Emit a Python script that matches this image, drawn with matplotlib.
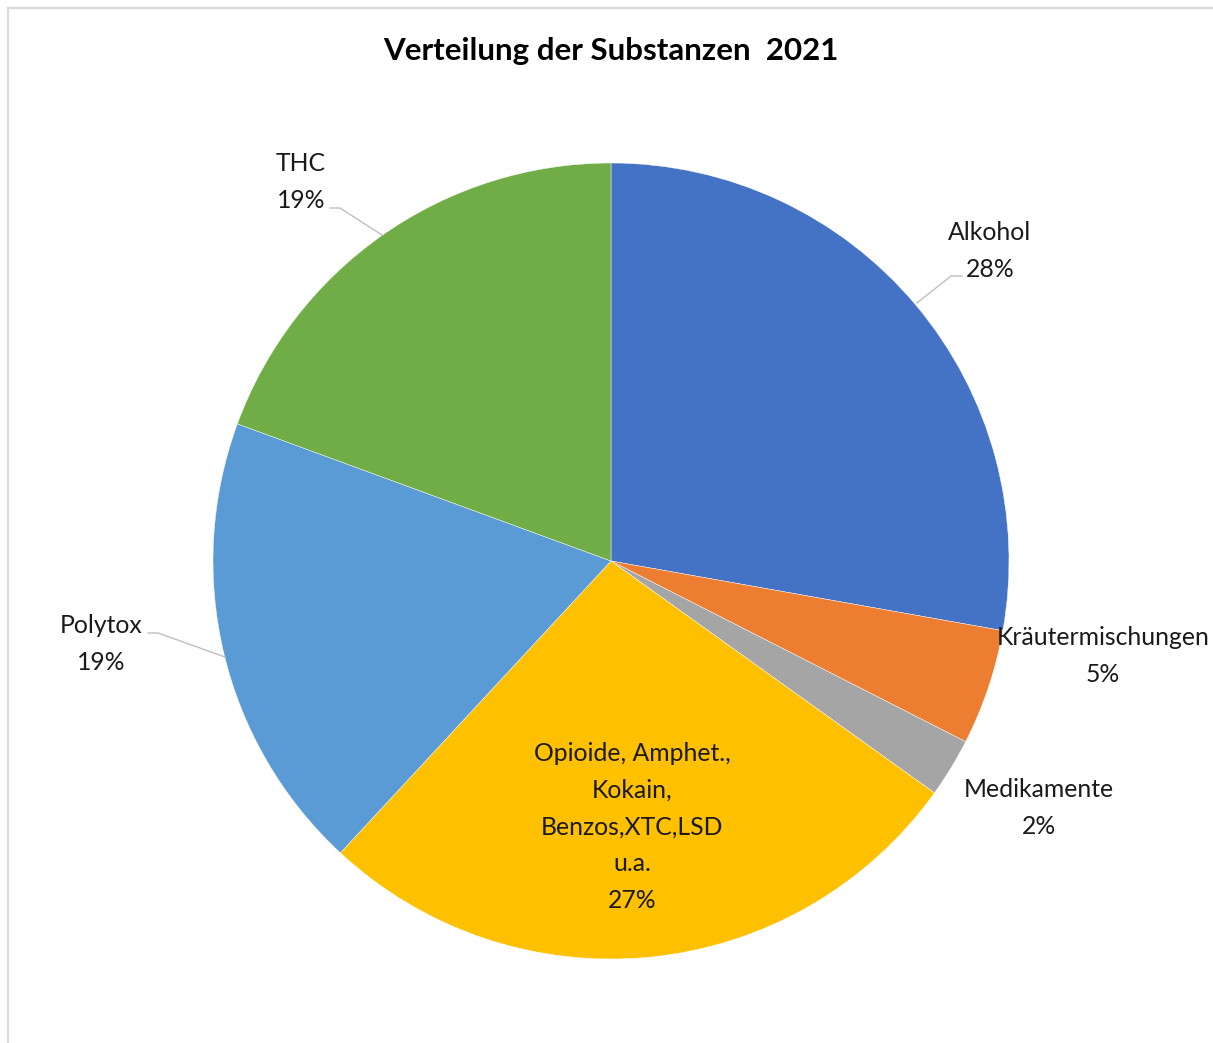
import matplotlib.pyplot as plt
from matplotlib.lines import Line2D

# --- data ---
categories = ["Alkohol", "Kräutermischungen", "Medikamente",
              "Opioide, Amphet.,\nKokain,\nBenzos,XTC,LSD\nu.a.", "Polytox", "THC"]
shares = [27.8, 4.7, 2.4, 27.0, 18.7, 19.4]
colors = ["#4472C4", "#ED7D31", "#A5A5A5", "#FFC000", "#5B9BD5", "#70AD47"]
title = "Verteilung der Substanzen  2021"

# --- figure / axes placed in pixels ---
W, H = 1213, 1043
cx, cy, r = 611, 561, 398
fig = plt.figure(figsize=(W / 100, H / 100), dpi=100)
ax = fig.add_axes([(cx - r) / W, (H - cy - r) / H, 2 * r / W, 2 * r / H])

ax.pie(shares, colors=colors, startangle=90, counterclock=False, radius=1,
       wedgeprops=dict(edgecolor="white", linewidth=0.3))
ax.set_xlim(-1, 1)
ax.set_ylim(-1, 1)
ax.set_aspect("equal")
ax.axis("off")

plt.rcParams["font.family"] = ["Lato", "DejaVu Sans"]
font = dict(fontsize=17.8, color="#1a1a1a", ha="center", va="center", linespacing=1.72)


def px(x, y):
    return (x - cx) / r, (cy - y) / r


# label centres (pixels) and leader lines (pixels)
label_pos = [(990, 251), (1103, 656), (1039, 808), (632, 827), (101, 644), (301, 182)]
leaders = [
    [(962, 276), (951, 276), (917, 303)],
    None,
    None,
    None,
    [(148, 633), (158, 633), (225, 657)],
    [(330, 208), (340, 208), (382, 235)],
]

total = sum(shares)
for name, val, pos, lead in zip(categories, shares, label_pos, leaders):
    x, y = px(*pos)
    ax.text(x, y, f"{name}\n{round(val / total * 100)}%", **font)
    if lead:
        xs, ys = zip(*[px(*p) for p in lead])
        ax.plot(xs, ys, color="#BFBFBF", lw=1, clip_on=False)

fig.text(611 / W, 1 - 51 / H, title, ha="center", va="center",
         fontsize=22.5, fontweight="bold", family=["Lato", "DejaVu Sans"])

# chart frame (only top and left visible in the crop)
fig.add_artist(Line2D([8 / W, 8 / W], [0, 1 - 8 / H], color="#D9D9D9", lw=1.6,
                      transform=fig.transFigure))
fig.add_artist(Line2D([8 / W, 1], [1 - 8 / H, 1 - 8 / H], color="#D9D9D9", lw=1.6,
                      transform=fig.transFigure))

fig.savefig("out.png", dpi=100, facecolor="white")
